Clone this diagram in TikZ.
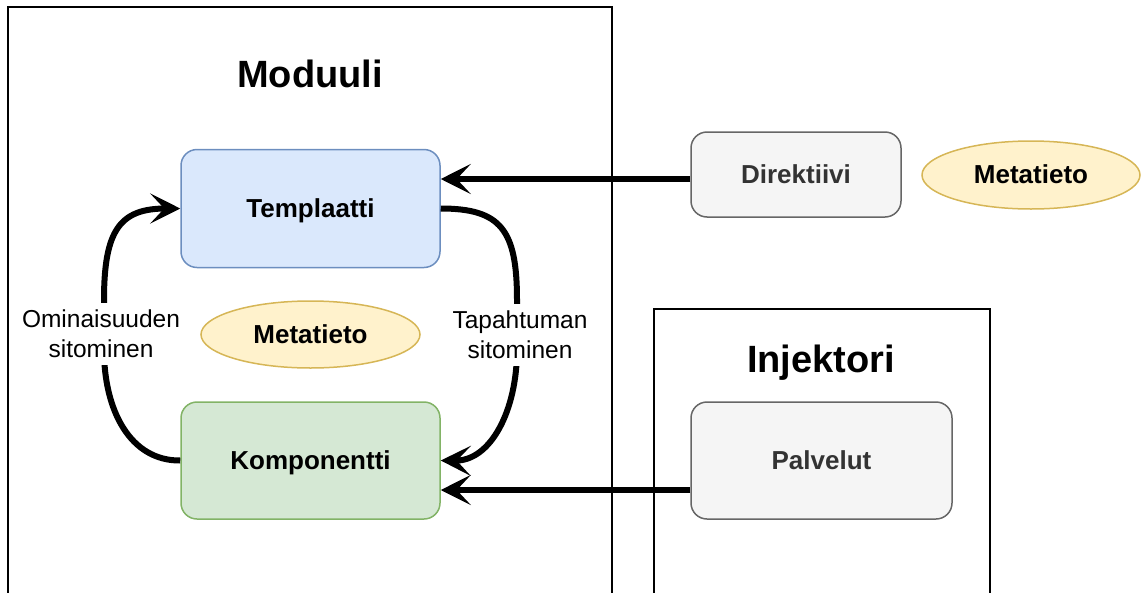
\documentclass[tikz,border=0pt]{standalone}
\usepackage{fontspec}
\setmainfont{Liberation Sans}
\usetikzlibrary{arrows.meta,shapes.geometric}
\definecolor{tplFill}{HTML}{DAE8FC}
\definecolor{tplLine}{HTML}{6C8EBF}
\definecolor{cmpFill}{HTML}{D5E8D4}
\definecolor{cmpLine}{HTML}{82B366}
\definecolor{metaFill}{HTML}{FFF2CC}
\definecolor{metaLine}{HTML}{D6B656}
\definecolor{grayFill}{HTML}{F5F5F5}
\definecolor{grayLine}{HTML}{666666}
\definecolor{grayText}{HTML}{333333}
\begin{document}
\begin{tikzpicture}[x=1pt,y=-1pt,
  frame/.style={draw=black, line width=1.5pt},
  title/.style={font=\fontsize{38}{45}\selectfont\bfseries},
  box/.style={draw, rounded corners=16pt, line width=1.5pt, inner sep=0pt,
    minimum width=259pt, minimum height=118pt,
    font=\fontsize{26}{31}\selectfont\bfseries, text height=17pt, text depth=0pt},
  graybox/.style={box, fill=grayFill, draw=grayLine, text=grayText},
  meta/.style={ellipse, draw=metaLine, fill=metaFill, line width=1.5pt, inner sep=0pt,
    minimum width=219pt, minimum height=67pt,
    font=\fontsize{26}{31}\selectfont\bfseries, text height=17pt, text depth=0pt},
  lab/.style={fill=white, align=center, font=\fontsize{24.5}{30}\selectfont,
    inner xsep=2pt, inner ysep=7pt},
  arr/.style={line width=6pt, -{Stealth[length=30pt,width=30pt,inset=14pt]}}
]
\clip (0,0) rectangle (1141,592);

% module and injector frames
\draw[frame] (8,7) rectangle (612,610);
\draw[frame] (654,309) rectangle (990,610);
\node[title, anchor=base] (modtitle) at (310,87) {Moduuli};
\node[title, anchor=base] (injtitle) at (821,372) {Injektori};

% main nodes
\node[box, fill=tplFill, draw=tplLine] (temp) at (310.5,208.5) {Templaatti};
\node[box, fill=cmpFill, draw=cmpLine, minimum height=117pt] (komp) at (310.5,460.5) {Komponentti};
\node[meta] (meta1) at (310.5,334.5) {Metatieto};
\node[graybox, minimum width=210pt, minimum height=85pt] (direk) at (796,174.5) {Direktiivi};
\node[meta, minimum width=218pt, minimum height=68pt] (meta2) at (1031,175) {Metatieto};
\node[graybox, minimum width=261pt, minimum height=117pt] (palv) at (821.5,460.5) {Palvelut};

% bindings between template and component
\draw[arr] (komp.west) .. controls (130,461) and (104,410) .. (104,350)
  -- (104,300) .. controls (104,230) and (120,208.5) .. (temp.west);
\draw[arr] (temp.east) .. controls (501,208.5) and (517,230) .. (517,300)
  -- (517,350) .. controls (517,410) and (491,461) .. (komp.east);
\node[lab] (propbind) at (101,334) {Ominaisuuden\\sitominen};
\node[lab] (eventbind) at (520,335) {Tapahtuman\\sitominen};

% directive and injector links
\coordinate (d1) at ([yshift=-4.5pt]direk.west);
\draw[arr] (d1) -- (d1 -| temp.east);
\coordinate (p1) at ([yshift=-29.5pt]palv.west);
\draw[arr] (p1) -- (p1 -| komp.east);
\end{tikzpicture}
\end{document}
